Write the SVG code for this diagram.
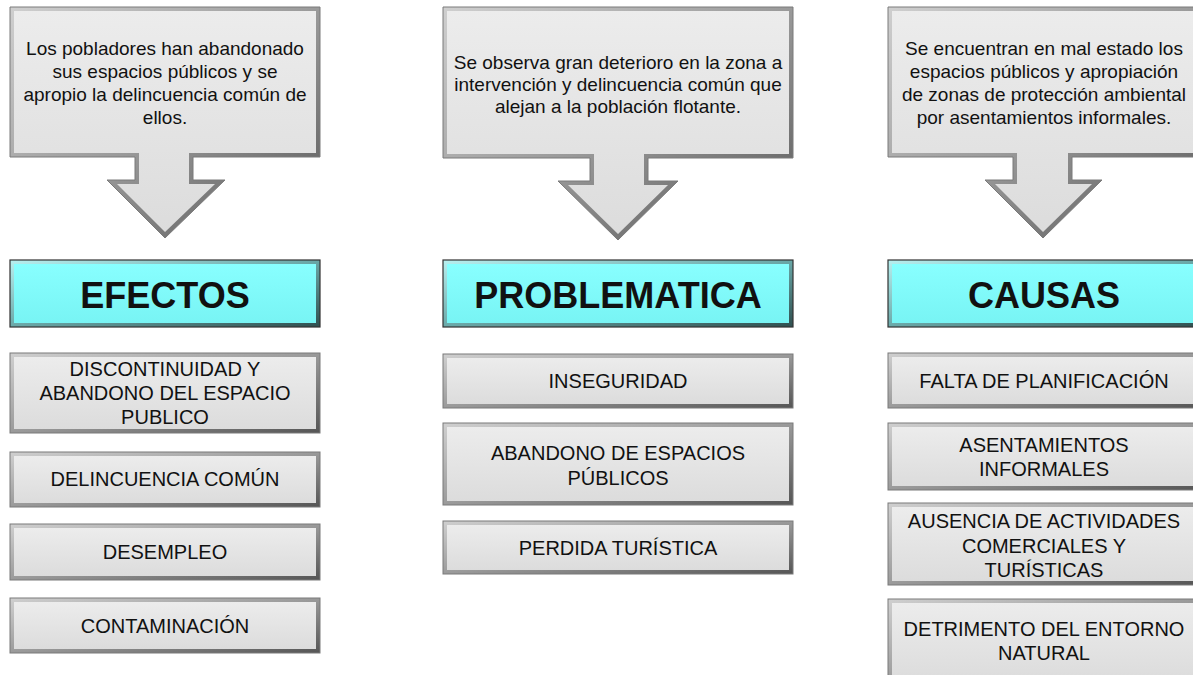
<svg xmlns="http://www.w3.org/2000/svg" width="1193" height="675" viewBox="0 0 1193 675">
<defs>
<linearGradient id="edge" x1="0" y1="0" x2="1" y2="1">
<stop offset="0" stop-color="#cfcfcf"/>
<stop offset="0.5" stop-color="#9a9a9a"/>
<stop offset="1" stop-color="#555555"/>
</linearGradient>
<linearGradient id="face" x1="0" y1="0" x2="0" y2="1">
<stop offset="0" stop-color="#ececec"/>
<stop offset="1" stop-color="#dcdcdc"/>
</linearGradient>
<linearGradient id="cyanEdge" x1="0" y1="0" x2="1" y2="1">
<stop offset="0" stop-color="#b8f0f0"/>
<stop offset="0.5" stop-color="#6aa8a8"/>
<stop offset="1" stop-color="#2f4f4f"/>
</linearGradient>
<linearGradient id="cyanFace" x1="0" y1="0" x2="0" y2="1">
<stop offset="0" stop-color="#88ffff"/>
<stop offset="1" stop-color="#78f4f4"/>
</linearGradient>
</defs>
<style>
.edge{fill:url(#edge);stroke:#7a7a7a;stroke-width:1}
.face{fill:url(#face)}
.cedge{fill:url(#cyanEdge);stroke:#333;stroke-width:1.2}
.cface{fill:url(#cyanFace)}
text{font-family:"Liberation Sans",Arial,sans-serif;fill:#111;text-anchor:middle}
.call{font-size:19px}
.lab{font-size:20px}
.head{font-size:36px;font-weight:bold}
</style>
<rect width="1193" height="675" fill="#ffffff"/>
<g id="connectors"/>
<g id="callout-efectos">
<path class="edge" d="M10,7 H320 V157 H193 V180 H225 L165,238 L107,180 H135 V157 H10 Z"/>
<path class="face" d="M14,11 H316 V153 H189 V184 H215 L165,232 L117,184 H139 V153 H14 Z"/>
<text class="call" x="165" y="55">Los pobladores han abandonado</text>
<text class="call" x="165" y="78">sus espacios públicos y se</text>
<text class="call" x="165" y="101">apropio la delincuencia común de</text>
<text class="call" x="165" y="124">ellos.</text>
</g>
<g id="callout-problematica">
<path class="edge" d="M443,7 H793 V158 H648 V181 H678 L618,240 L558,181 H590 V158 H443 Z"/>
<path class="face" d="M447,11 H789 V154 H644 V185 H668 L618,234 L568,185 H594 V154 H447 Z"/>
<text class="call" x="618" y="69">Se observa gran deterioro en la zona a</text>
<text class="call" x="618" y="91">intervención y delincuencia común que</text>
<text class="call" x="618" y="113">alejan a la población flotante.</text>
</g>
<g id="callout-causas">
<path class="edge" d="M888,7 H1200 V157 H1072 V180 H1102 L1043,238 L985,180 H1013 V157 H888 Z"/>
<path class="face" d="M892,11 H1196 V153 H1068 V184 H1092 L1043,232 L995,184 H1017 V153 H892 Z"/>
<text class="call" x="1044" y="55">Se encuentran en mal estado los</text>
<text class="call" x="1044" y="78">espacios públicos y apropiación</text>
<text class="call" x="1044" y="101">de zonas de protección ambiental</text>
<text class="call" x="1044" y="124">por asentamientos informales.</text>
</g>
<g id="h-efectos">
<rect class="cedge" x="10" y="260" width="310" height="67"/>
<rect class="cface" x="14" y="264" width="302" height="59"/>
<text class="head" x="165" y="308">EFECTOS</text>
</g>
<g id="h-problematica">
<rect class="cedge" x="443" y="260" width="350" height="67"/>
<rect class="cface" x="447" y="264" width="342" height="59"/>
<text class="head" x="618" y="308">PROBLEMATICA</text>
</g>
<g id="h-causas">
<rect class="cedge" x="888" y="260" width="312" height="67"/>
<rect class="cface" x="892" y="264" width="304" height="59"/>
<text class="head" x="1044" y="308">CAUSAS</text>
</g>
<g id="e1">
<rect class="edge" x="10" y="353" width="310" height="80"/>
<rect class="face" x="14" y="357" width="302" height="72"/>
<text class="lab" x="165" y="376">DISCONTINUIDAD Y</text>
<text class="lab" x="165" y="400">ABANDONO DEL ESPACIO</text>
<text class="lab" x="165" y="424">PUBLICO</text>
</g>
<g id="e2">
<rect class="edge" x="10" y="452" width="310" height="55"/>
<rect class="face" x="14" y="456" width="302" height="47"/>
<text class="lab" x="165" y="486">DELINCUENCIA COMÚN</text>
</g>
<g id="e3">
<rect class="edge" x="10" y="524" width="310" height="56"/>
<rect class="face" x="14" y="528" width="302" height="48"/>
<text class="lab" x="165" y="559">DESEMPLEO</text>
</g>
<g id="e4">
<rect class="edge" x="10" y="598" width="310" height="55"/>
<rect class="face" x="14" y="602" width="302" height="47"/>
<text class="lab" x="165" y="633">CONTAMINACIÓN</text>
</g>
<g id="p1">
<rect class="edge" x="443" y="354" width="350" height="54"/>
<rect class="face" x="447" y="358" width="342" height="46"/>
<text class="lab" x="618" y="388">INSEGURIDAD</text>
</g>
<g id="p2">
<rect class="edge" x="443" y="423" width="350" height="82"/>
<rect class="face" x="447" y="427" width="342" height="74"/>
<text class="lab" x="618" y="460">ABANDONO DE ESPACIOS</text>
<text class="lab" x="618" y="485">PÚBLICOS</text>
</g>
<g id="p3">
<rect class="edge" x="443" y="521" width="350" height="53"/>
<rect class="face" x="447" y="525" width="342" height="45"/>
<text class="lab" x="618" y="555">PERDIDA TURÍSTICA</text>
</g>
<g id="c1">
<rect class="edge" x="888" y="353" width="312" height="55"/>
<rect class="face" x="892" y="357" width="304" height="47"/>
<text class="lab" x="1044" y="388">FALTA DE PLANIFICACIÓN</text>
</g>
<g id="c2">
<rect class="edge" x="888" y="423" width="312" height="67"/>
<rect class="face" x="892" y="427" width="304" height="59"/>
<text class="lab" x="1044" y="452">ASENTAMIENTOS</text>
<text class="lab" x="1044" y="476">INFORMALES</text>
</g>
<g id="c3">
<rect class="edge" x="888" y="503" width="312" height="82"/>
<rect class="face" x="892" y="507" width="304" height="74"/>
<text class="lab" x="1044" y="528">AUSENCIA DE ACTIVIDADES</text>
<text class="lab" x="1044" y="553">COMERCIALES Y</text>
<text class="lab" x="1044" y="577">TURÍSTICAS</text>
</g>
<g id="c4">
<rect class="edge" x="888" y="599" width="312" height="85"/>
<rect class="face" x="892" y="603" width="304" height="77"/>
<text class="lab" x="1044" y="636">DETRIMENTO DEL ENTORNO</text>
<text class="lab" x="1044" y="660">NATURAL</text>
</g>
</svg>
